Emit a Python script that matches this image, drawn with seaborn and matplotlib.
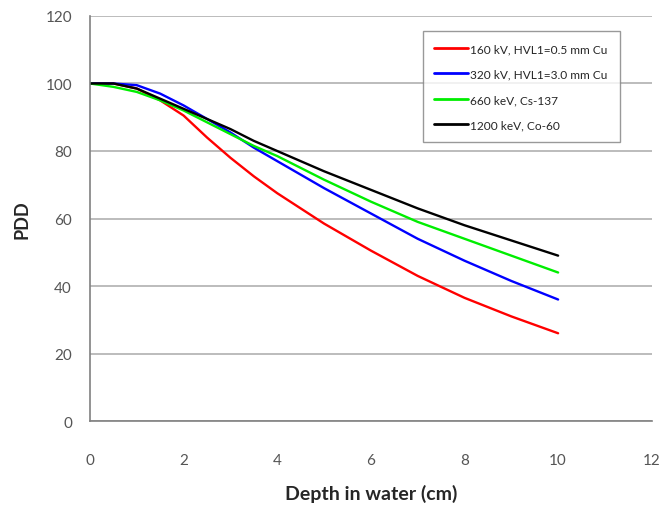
import matplotlib
matplotlib.use("Agg")
import matplotlib.pyplot as plt
import seaborn as sns
import pandas as pd

depth = [0, 0.5, 1, 1.5, 2, 2.5, 3, 3.5, 4, 5, 6, 7, 8, 9, 10]
pdd_160kv = [100, 100, 98.5, 95, 90.5, 84, 78, 72.5, 67.5, 58.5, 50.5, 43, 36.5, 31, 26]
pdd_320kv = [100, 100, 99.5, 97, 93.5, 89.5, 85.5, 81, 77, 69, 61.5, 54, 47.5, 41.5, 36]
pdd_660kev = [100, 99, 97.5, 95, 92, 88.5, 85, 81.5, 78.5, 71.5, 65, 59, 54, 49, 44]
pdd_1200kev = [100, 100, 98.5, 95.5, 92.5, 89.5, 86.5, 83, 80, 74, 68.5, 63, 58, 53.5, 49]

labels = ["160 kV, HVL1=0.5 mm Cu", "320 kV, HVL1=3.0 mm Cu",
          "660 keV, Cs-137", "1200 keV, Co-60"]
colors = ["#ff0000", "#0000ff", "#00ee00", "#000000"]

frames = []
for lab, vals in zip(labels, [pdd_160kv, pdd_320kv, pdd_660kev, pdd_1200kev]):
    frames.append(pd.DataFrame({"Depth": depth, "PDD": vals, "Beam": lab}))
df = pd.concat(frames, ignore_index=True)

sns.set_style("white")
plt.rcParams['font.family'] = ['Lato', 'DejaVu Sans']

fig = plt.figure(figsize=(6.63, 5.10), dpi=100)
ax = fig.add_axes([0.1357, 0.1725, 0.8473, 0.7942])

sns.lineplot(data=df, x="Depth", y="PDD", hue="Beam", palette=colors,
             hue_order=labels, linewidth=1.7, ax=ax, legend=True)

ax.set_xlim(0, 12)
ax.set_ylim(0, 120)
ax.set_xticks(range(0, 13, 2))
ax.set_yticks(range(0, 121, 20))
ax.yaxis.grid(True, color="#b0b0b0", linewidth=1.2)
ax.xaxis.grid(False)
ax.set_axisbelow(True)
for s in ["top", "right"]:
    ax.spines[s].set_visible(False)
for s in ["left", "bottom"]:
    ax.spines[s].set_color("#808080")
    ax.spines[s].set_linewidth(1.2)
ax.tick_params(axis="both", which="both", length=5, width=1, color="#808080",
               labelcolor="#555555", labelsize=11, direction="out")
ax.tick_params(axis="x", pad=18)
ax.tick_params(axis="y", pad=8)
ax.set_xlabel("Depth in water (cm)", fontsize=14, fontweight="bold", labelpad=12)
ax.set_ylabel("PDD", fontsize=13, fontweight="bold", labelpad=11)

leg = ax.legend(loc="upper left", bbox_to_anchor=(0.592, 0.962), fontsize=8.6,
                frameon=True, fancybox=False, edgecolor="#808080",
                handlelength=2.8, handletextpad=0.2, labelspacing=1.2,
                borderpad=1.0, borderaxespad=0)
leg.get_frame().set_linewidth(1.0)
for line in leg.get_lines():
    line.set_linewidth(2)

fig.savefig("out.png", dpi=100)
